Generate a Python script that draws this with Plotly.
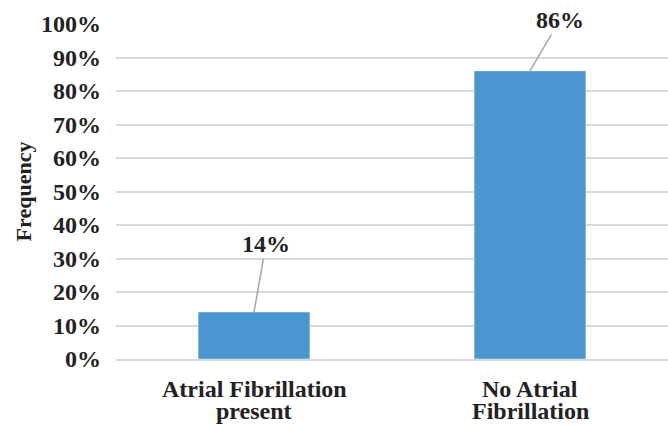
import plotly.graph_objects as go

categories = ["Atrial Fibrillation<br>present", "No Atrial<br>Fibrillation"]
values = [0.14, 0.86]
labels = ["14%", "86%"]
label_offsets = [(12, -68), (30, -51)]

fam = "Liberation Serif"
font = dict(family=fam, size=24, color="#222222")

fig = go.Figure(go.Bar(x=categories, y=values, marker_color="#4A96D0", width=0.405))

for c, v, t, (ax, ay) in zip(categories, values, labels, label_offsets):
    fig.add_annotation(x=c, y=v, text="<b>%s</b>" % t, showarrow=True, arrowhead=0,
                       arrowcolor="#A6A6A6", arrowwidth=1.5, ax=ax, ay=ay,
                       font=font)

# category labels with tight line spacing
for c in categories:
    for i, line in enumerate(c.split("<br>")):
        fig.add_annotation(x=c, y=0, xref="x", yref="y", text="<b>%s</b>" % line,
                           showarrow=False, yanchor="middle", yshift=-30 - 22 * i,
                           font=font)

fig.update_layout(
    width=668, height=426,
    margin=dict(l=116, r=0, t=24, b=67),
    plot_bgcolor="white", paper_bgcolor="white",
    font=font,
    showlegend=False,
    bargap=0.6,
)
fig.update_yaxes(range=[0, 1], dtick=0.1, tickformat=".0%", showgrid=True,
                 gridcolor="#D9D9D9", gridwidth=1.5, zeroline=False, automargin=False,
                 ticklabelstandoff=14, tickfont=dict(family=fam, size=24, weight="bold", color="#222222"),
                 title=dict(text="<b>Frequency</b>", standoff=3, font=dict(family=fam, size=22, color="#222222")))
fig.update_xaxes(showline=True, linecolor="#D9D9D9", linewidth=1.5, automargin=False,
                 showticklabels=False)

fig.write_html("out.html", config={"displayModeBar": False},
               post_script="document.body.style.margin='0';")
